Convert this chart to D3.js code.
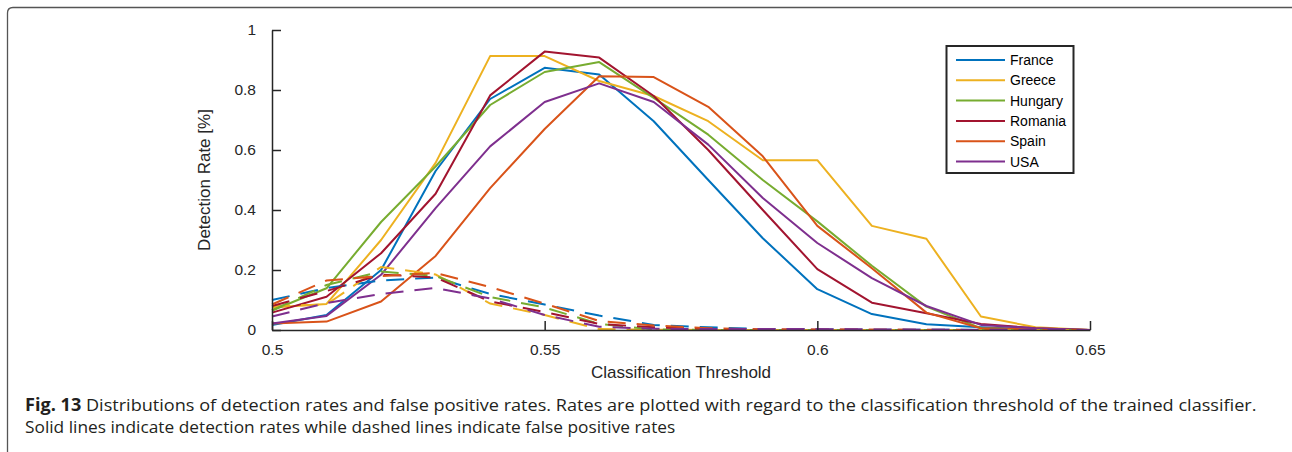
<!DOCTYPE html>
<html><head><meta charset="utf-8">
<script src="https://cdn.jsdelivr.net/npm/d3@7"></script>
<style>html,body{margin:0;padding:0;background:#fff;}svg{display:block;}</style>
</head><body>
<svg id="chart" width="1292" height="452"></svg>
<script>
const thresholds = [0.50,0.51,0.52,0.53,0.54,0.55,0.56,0.57,0.58,0.59,0.60,0.61,0.62,0.63,0.64,0.65];
const countries = ["France","Greece","Hungary","Romania","Spain","USA"];
const colors = ["#0072BD","#EDB120","#77AC30","#A2142F","#D95319","#7E2F8E"];
// detection rates (solid)
const drFrance  = [0.017,0.05,0.20,0.53,0.77,0.874,0.852,0.696,0.50,0.306,0.136,0.053,0.019,0.009,0.002,0];
const drGreece  = [0.075,0.087,0.30,0.557,0.913,0.913,0.83,0.78,0.696,0.566,0.566,0.347,0.304,0.045,0.009,0];
const drHungary = [0.065,0.139,0.36,0.545,0.75,0.86,0.893,0.774,0.651,0.50,0.362,0.214,0.078,0.006,0.002,0];
const drRomania = [0.058,0.111,0.256,0.454,0.782,0.928,0.908,0.78,0.60,0.40,0.203,0.091,0.056,0.02,0.006,0];
const drSpain   = [0.022,0.028,0.095,0.247,0.473,0.67,0.846,0.843,0.744,0.579,0.347,0.206,0.058,0.006,0.002,0];
const drUSA     = [0.022,0.047,0.184,0.406,0.612,0.76,0.822,0.76,0.618,0.44,0.29,0.173,0.08,0.017,0.006,0];
// false positive rates (dashed)
const fpFrance  = [0.10,0.14,0.165,0.175,0.12,0.085,0.048,0.017,0.009,0.003,0.002,0.001,0.001,0.001,0,0];
const fpGreece  = [0.08,0.085,0.21,0.185,0.088,0.05,0.003,0.001,0,0,0,0,0,0,0,0];
const fpHungary = [0.065,0.15,0.195,0.18,0.11,0.075,0.02,0.002,0,0,0,0,0,0,0,0];
const fpRomania = [0.08,0.13,0.185,0.175,0.095,0.06,0.02,0.009,0.004,0.002,0.002,0.001,0.001,0,0,0];
const fpSpain   = [0.085,0.165,0.18,0.19,0.143,0.088,0.03,0.015,0.006,0.002,0.001,0.001,0,0,0,0];
const fpUSA     = [0.045,0.09,0.12,0.14,0.105,0.05,0.011,0.004,0.003,0.003,0.003,0.002,0.001,0,0,0];
const xTicks = [0.5,0.55,0.6,0.65];
const xTickLabels = ["0.5","0.55","0.6","0.65"];
const yTicks = [0,0.2,0.4,0.6,0.8,1];
const yTickLabels = ["0","0.2","0.4","0.6","0.8","1"];

const drSeries = [drFrance,drGreece,drHungary,drRomania,drSpain,drUSA];
const fpSeries = [fpFrance,fpGreece,fpHungary,fpRomania,fpSpain,fpUSA];

const svg = d3.select("#chart");
const axisColor = "#262626";
const F = "'Liberation Sans', Arial, Helvetica, sans-serif";

// outer frame (rounded corner top-left)
svg.append("path")
  .attr("d","M7.5,452 L7.5,13 Q7.5,7.5 13,7.5 L1292,7.5")
  .attr("fill","none").attr("stroke","#555").attr("stroke-width",1.3);

const x = d3.scaleLinear().domain([0.5,0.65]).range([272,1090]);
const y = d3.scaleLinear().domain([0,1]).range([330,30]);

const line = d3.line().x((d,i)=>x(thresholds[i])).y(d=>y(d));

const plot = svg.append("g");
drSeries.forEach((s,k)=>{
  plot.append("path").datum(s).attr("d",line)
    .attr("fill","none").attr("stroke",colors[k]).attr("stroke-width",2)
    .attr("stroke-linejoin","round");
});
fpSeries.forEach((s,k)=>{
  plot.append("path").datum(s).attr("d",line)
    .attr("fill","none").attr("stroke",colors[k]).attr("stroke-width",2)
    .attr("stroke-dasharray","18,11");
});

// axes
const xAxis = d3.axisBottom(x).tickValues(xTicks).tickFormat((d,i)=>xTickLabels[i]).tickSizeInner(-9).tickSizeOuter(0).tickPadding(14);
const gx = svg.append("g").attr("transform","translate(0,330)").call(xAxis);
gx.select(".domain").attr("stroke",axisColor).attr("stroke-width",1.5);
gx.selectAll(".tick line").attr("stroke",axisColor).attr("stroke-width",1.5);
gx.selectAll(".tick text").attr("fill",axisColor).style("font-family",F).style("font-size","15.5px");

const yAxis = d3.axisLeft(y).tickValues(yTicks).tickFormat((d,i)=>yTickLabels[i]).tickSizeInner(-9).tickSizeOuter(0).tickPadding(16);
const gy = svg.append("g").attr("transform","translate(272,0)").call(yAxis);
gy.select(".domain").attr("stroke",axisColor).attr("stroke-width",1.5);
gy.selectAll(".tick line").attr("stroke",axisColor).attr("stroke-width",1.5);
gy.selectAll(".tick text").attr("fill",axisColor).style("font-family",F).style("font-size","15.5px");

// axis labels
svg.append("text").attr("x",681).attr("y",378).attr("text-anchor","middle")
  .attr("fill",axisColor).style("font-family",F).style("font-size","17px")
  .text("Classification Threshold");
svg.append("text").attr("transform","translate(210,180) rotate(-90)").attr("text-anchor","middle")
  .attr("fill",axisColor).style("font-family",F).style("font-size","17px")
  .text("Detection Rate [%]");

// legend
const lg = svg.append("g");
lg.append("rect").attr("x",946.5).attr("y",46).attr("width",127).attr("height",127)
  .attr("fill","#fff").attr("stroke","#262626").attr("stroke-width",2);
countries.forEach((c,k)=>{
  const yy = 60 + k*20.3;
  lg.append("line").attr("x1",956).attr("x2",1005).attr("y1",yy).attr("y2",yy)
    .attr("stroke",colors[k]).attr("stroke-width",2);
  lg.append("text").attr("x",1010).attr("y",yy+5).attr("fill","#000")
    .style("font-family",F).style("font-size","14px").text(c);
});

// caption
const CF = "'Open Sans', 'Noto Sans', sans-serif";
const cap1 = svg.append("g");
const l1 = cap1.append("text").attr("x",0).attr("y",0).style("font-family",CF).style("font-size","17px").attr("fill","#231f20");
l1.append("tspan").style("font-weight","bold").text("Fig. 13");
l1.append("tspan").text(" Distributions of detection rates and false positive rates. Rates are plotted with regard to the classification threshold of the trained classifier.");
const w1 = l1.node().getComputedTextLength();
cap1.attr("transform",`translate(25,411) scale(${1233 / w1},1)`);
const cap2 = svg.append("g");
const l2 = cap2.append("text").attr("x",0).attr("y",0).style("font-family",CF).style("font-size","17px").attr("fill","#231f20")
  .text("Solid lines indicate detection rates while dashed lines indicate false positive rates");
const w2 = l2.node().getComputedTextLength();
cap2.attr("transform",`translate(25,433) scale(${651 / w2},1)`);
</script>
</body></html>
